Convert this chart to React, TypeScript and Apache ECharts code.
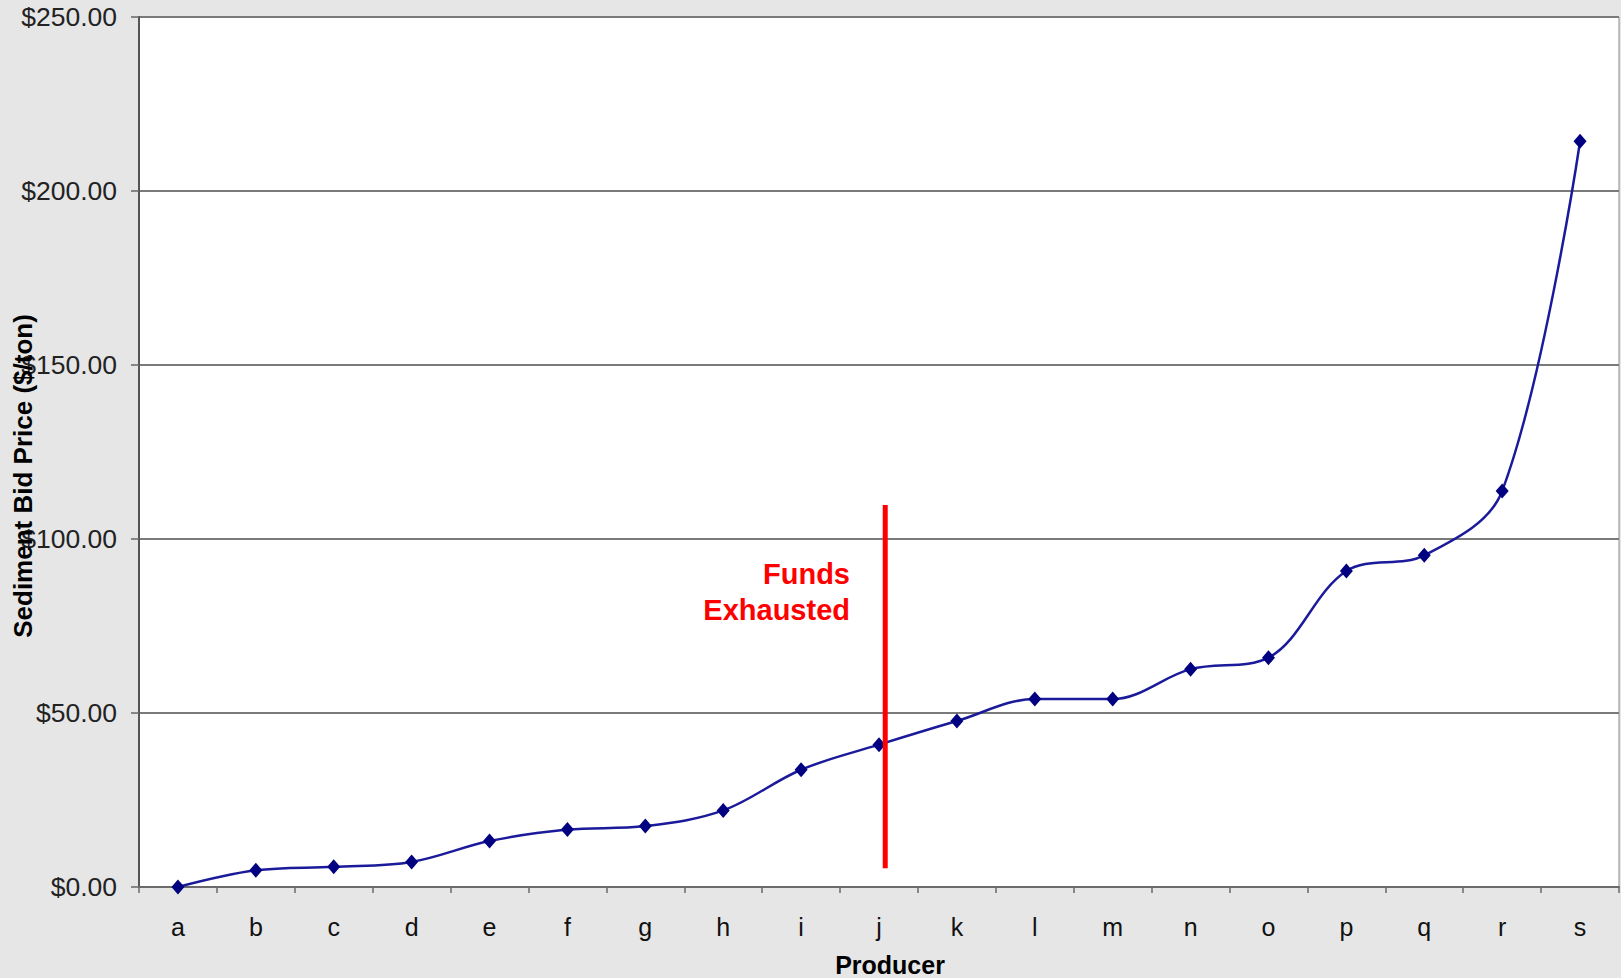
import React, { useEffect, useRef } from "react";
import * as echarts from "echarts";

const categories = ["a", "b", "c", "d", "e", "f", "g", "h", "i", "j", "k", "l", "m", "n", "o", "p", "q", "r", "s"];
const bidPrices = [0, 4.8, 5.8, 7.2, 13.2, 16.5, 17.5, 22.0, 33.7, 40.9, 47.7, 54.0, 54.0, 62.6, 65.9, 90.8, 95.3, 113.8, 214.3];
const yTicks = { min: 0, max: 250, interval: 50 };
// funds exhausted marker: position along category index, and its vertical extent in $
const fundsLineX = 9.08;
const fundsLineRange = [5.4, 109.8];
const fundsLabel = "Funds\nExhausted";

const FONT = "'Liberation Sans', Arial, Helvetica, sans-serif";

export default function App() {
  const ref = useRef<HTMLDivElement>(null);
  useEffect(() => {
    document.body.style.margin = "0";
    const chart = echarts.init(ref.current!, null, { renderer: "svg" });
    chart.setOption({
      animation: false,
      backgroundColor: "#e6e6e6",
      textStyle: { fontFamily: FONT },
      grid: {
        left: 139,
        top: 17,
        right: 2,
        bottom: 91,
        outerBoundsMode: "none",
        containLabel: false,
        show: true,
        backgroundColor: "#ffffff",
        borderColor: "#8a8a8a",
        borderWidth: 1,
      },
      xAxis: [
        {
          type: "category",
          data: categories,
          boundaryGap: true,
          name: "Producer",
          nameLocation: "middle",
          nameGap: 65,
          nameTextStyle: { fontSize: 25, fontWeight: "bold", color: "#000", fontFamily: FONT, padding: [0, 0, 0, 22] },
          axisLine: { show: true, lineStyle: { color: "#6a6a6a", width: 2 } },
          axisTick: { show: true, alignWithLabel: false, length: 6, lineStyle: { color: "#6a6a6a", width: 1.5 } },
          axisLabel: { fontSize: 25, color: "#111", margin: 27, fontFamily: FONT },
          splitLine: { show: false },
        },
        {
          type: "value",
          min: -0.5,
          max: 18.5,
          show: false,
        },
      ],
      yAxis: {
        type: "value",
        min: yTicks.min,
        max: yTicks.max,
        interval: yTicks.interval,
        axisLine: { show: true, onZero: false, lineStyle: { color: "#555", width: 2 } },
        axisTick: { show: true, length: 8, lineStyle: { color: "#666", width: 1.5 } },
        axisLabel: {
          fontSize: 26.5,
          color: "#222",
          margin: 22,
          fontFamily: FONT,
          formatter: (v: number) => "$" + v.toFixed(2),
        },
        splitLine: { show: true, lineStyle: { color: "#7a7a7a", width: 2 } },
      },
      graphic: [
        {
          type: "text",
          x: 23,
          y: 476,
          rotation: Math.PI / 2,
          style: {
            text: "Sediment Bid Price ($/ton)",
            fontSize: 26,
            fontWeight: "bold",
            fontFamily: FONT,
            fill: "#000",
            textAlign: "center",
            textVerticalAlign: "middle",
          },
          z: 10,
        },
        {
          type: "text",
          x: 850,
          y: 592,
          style: {
            text: fundsLabel,
            fontSize: 29,
            fontWeight: "bold",
            fontFamily: FONT,
            fill: "#ff0000",
            textAlign: "right",
            textVerticalAlign: "middle",
            lineHeight: 36,
          },
          z: 10,
        },
      ],
      series: [
        {
          type: "line",
          name: "Bid",
          data: bidPrices,
          smooth: 0.35,
          symbol: "diamond",
          symbolSize: [13, 15],
          itemStyle: { color: "#000080" },
          lineStyle: { color: "#1a1a9a", width: 2.5 },
          z: 3,
        },
        {
          type: "line",
          name: "Funds Exhausted",
          xAxisIndex: 1,
          data: [
            [fundsLineX, fundsLineRange[0]],
            [fundsLineX, fundsLineRange[1]],
          ],
          symbol: "none",
          lineStyle: { color: "#ff0000", width: 5 },
          z: 4,
        },
      ],
    });
    return () => chart.dispose();
  }, []);
  return <div ref={ref} style={{ width: 1621, height: 978 }} />;
}
